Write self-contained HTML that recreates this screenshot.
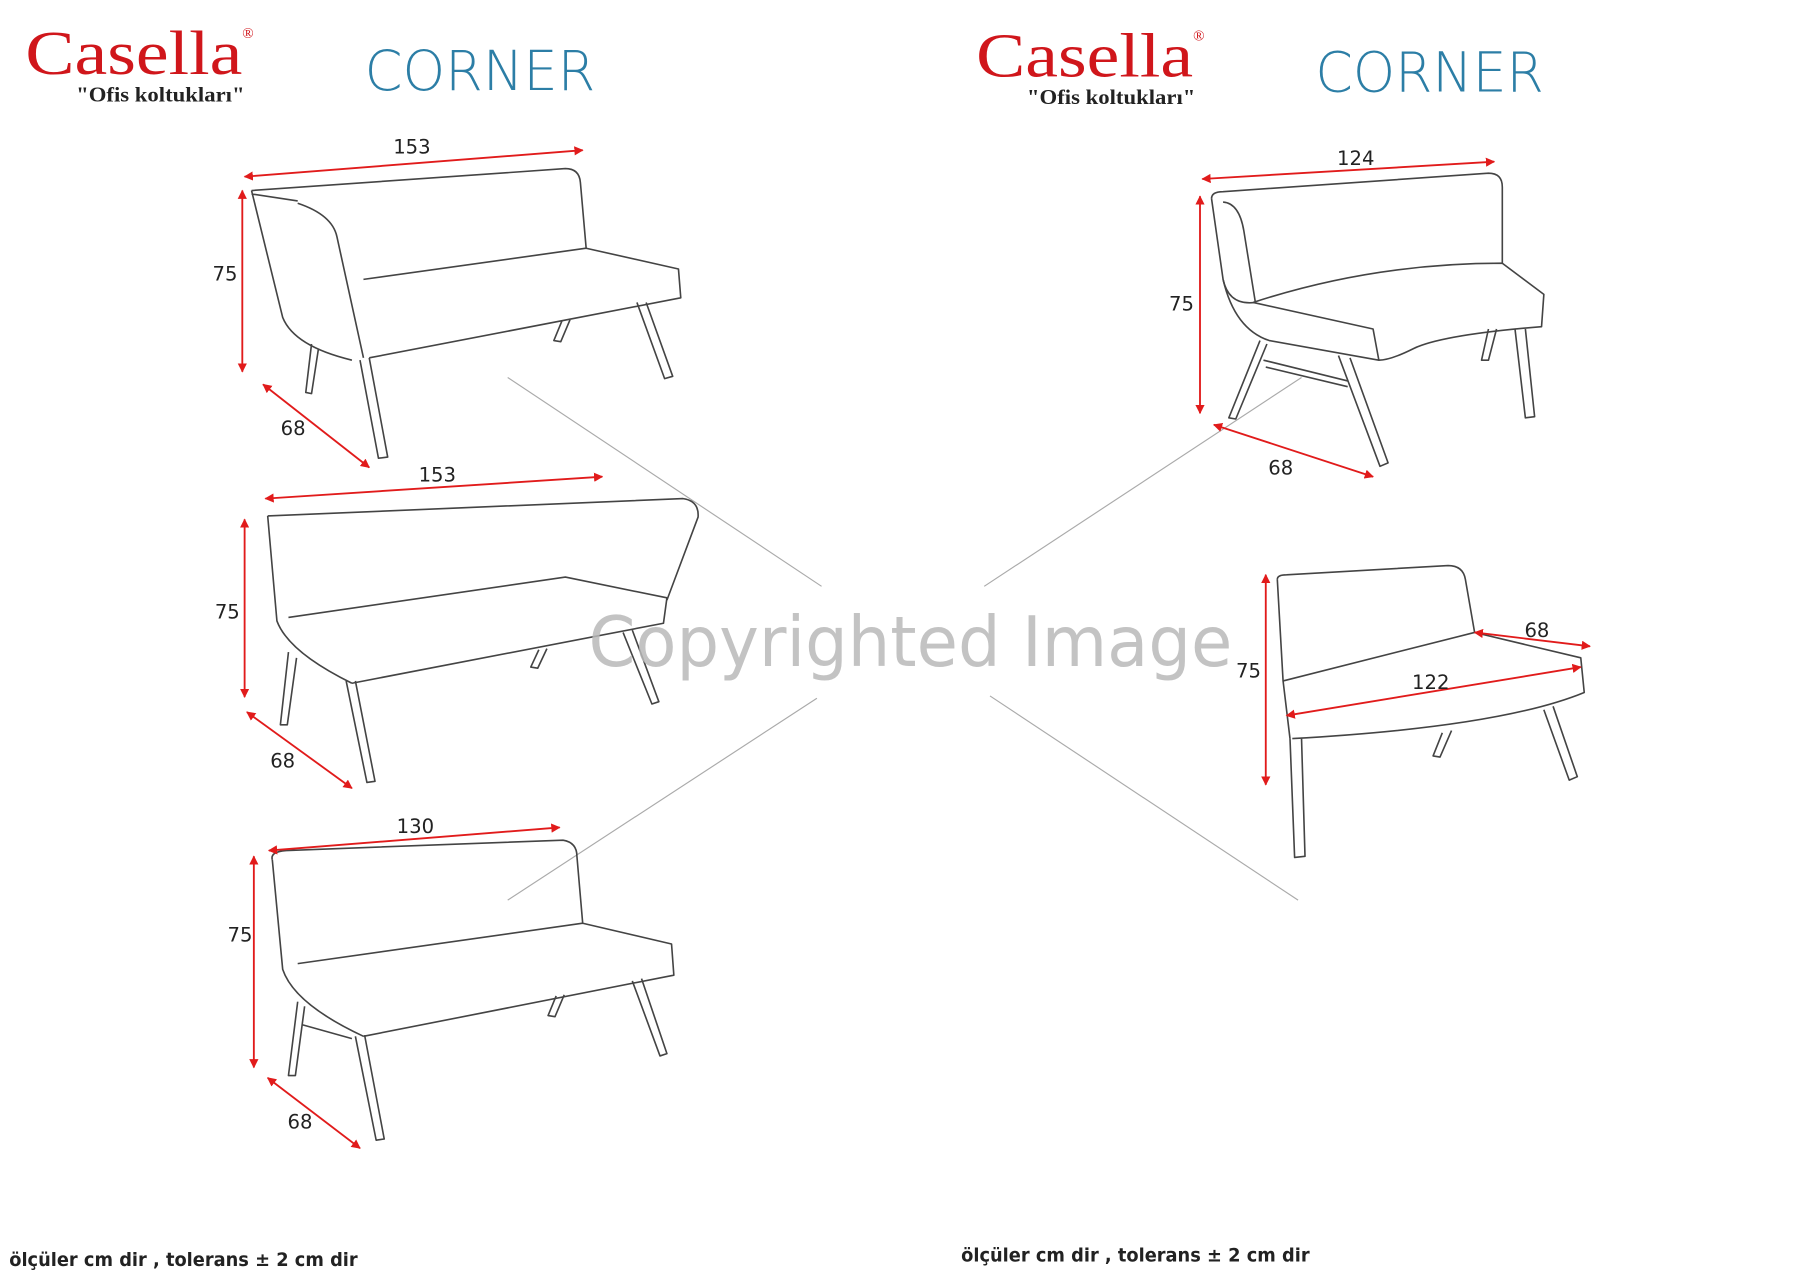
<!DOCTYPE html>
<html><head><meta charset="utf-8"><style>
html,body{margin:0;padding:0;background:#fff;}
svg{display:block;}
</style></head><body>
<svg width="1800" height="1273" viewBox="0 0 1560 1103" xmlns="http://www.w3.org/2000/svg">
<defs>
<marker id="a" viewBox="0 0 10 10" refX="9" refY="5" markerWidth="5" markerHeight="5" orient="auto-start-reverse"><path d="M0,0 L10,5 L0,10 z" fill="#e11b1b"/></marker>
</defs>
<rect width="1560" height="1103" fill="#fff"/>
<!-- headers -->
<g font-family="Liberation Serif, serif" fill="#d0161b">
<text x="22" y="64" font-size="54" textLength="188" lengthAdjust="spacingAndGlyphs">Casella</text>
<text x="210" y="33" font-size="13">®</text>
<text x="846" y="66" font-size="54" textLength="188" lengthAdjust="spacingAndGlyphs">Casella</text>
<text x="1034" y="35" font-size="13">®</text>
</g>
<g font-family="Liberation Serif, serif" font-weight="bold" fill="#222" font-size="18">
<text x="66" y="88" textLength="146" lengthAdjust="spacingAndGlyphs">"Ofis koltukları"</text>
<text x="890" y="90" textLength="146" lengthAdjust="spacingAndGlyphs">"Ofis koltukları"</text>
</g>
<g font-family="DejaVu Sans, sans-serif" fill="#2c7ea6" font-size="48" font-weight="200">
<text x="316" y="78" textLength="200" lengthAdjust="spacingAndGlyphs">CORNER</text>
<text x="1140" y="79" textLength="198" lengthAdjust="spacingAndGlyphs">CORNER</text>
</g>
<!-- watermark lines -->
<g stroke="#aaa" stroke-width="1">
<line x1="440" y1="327" x2="712" y2="508"/>
<line x1="853" y1="508" x2="1128" y2="327"/>
<line x1="440" y1="780" x2="708" y2="605"/>
<line x1="858" y1="603" x2="1125" y2="780"/>
</g>
<!-- sofas -->
<g fill="none" stroke="#444" stroke-width="1.4" stroke-linejoin="round">
<path d="M218,165 L490,146 Q502,146 503,158 L508,215"/>
<path d="M218,165 L245,275 Q255,300 305,312"/>
<path d="M218,168 L258,174 M258,176 Q288,186 292,205 L315,310"/>
<path d="M315,242 L508,215 L588,233 L590,258 L320,310"/>
<path d="M270,298 L265,340 L270,341 L276,302"/>
<path d="M312,312 L328,397 L336,396 L320,310"/>
<path d="M487,278 L480,295 L486,296 L494,277"/>
<path d="M552,262 L576,328 L583,326 L560,262"/>
<path d="M232,447 L592,432 Q606,434 605,448 L578,520"/>
<path d="M232,447 L240,538 Q250,565 305,592"/>
<path d="M250,535 L490,500 L578,518 L575,540 L305,592"/>
<path d="M250,565 L243,628 L249,628 L257,570"/>
<path d="M300,590 L318,678 L325,677 L308,590"/>
<path d="M467,563 L460,578 L466,579 L474,562"/>
<path d="M540,548 L565,610 L571,608 L548,546"/>
<path d="M236,745 Q234,738 248,737 L488,728 Q500,730 500,742 L505,800"/>
<path d="M236,745 L245,840 Q255,870 315,898"/>
<path d="M258,835 L505,800 L582,818 L584,845 L315,898"/>
<path d="M258,868 L250,932 L256,932 L264,872 M262,888 L305,900"/>
<path d="M308,898 L326,988 L333,987 L316,897"/>
<path d="M482,863 L475,880 L481,881 L489,862"/>
<path d="M548,850 L572,915 L578,913 L556,848"/>
<path d="M1050,172 Q1050,166 1060,166 L1290,150 Q1302,150 1302,162 L1302,228"/>
<path d="M1050,172 L1060,242 Q1065,265 1088,262"/>
<path d="M1060,175 Q1074,176 1078,200 L1088,262"/>
<path d="M1086,262 Q1190,228 1302,228 L1338,255 L1336,283 Q1250,290 1225,302 Q1205,312 1195,312"/>
<path d="M1060,242 Q1070,285 1100,295 L1195,312 L1190,285 L1086,262"/>
<path d="M1092,295 L1065,362 L1071,363 L1098,298"/>
<path d="M1160,308 L1196,404 L1203,401 L1170,310"/>
<path d="M1095,312 L1168,330 M1097,318 L1168,335"/>
<path d="M1290,285 L1284,312 L1290,312 L1297,285"/>
<path d="M1313,285 L1322,362 L1330,361 L1322,285"/>
<path d="M1107,502 Q1107,498 1115,498 L1255,490 Q1268,490 1270,502 L1278,548"/>
<path d="M1107,502 L1112,590 L1118,640"/>
<path d="M1112,590 L1278,548 L1370,570 L1373,600 Q1300,630 1120,640"/>
<path d="M1118,640 L1122,743 L1131,742 L1128,640"/>
<path d="M1250,635 L1242,655 L1248,656 L1258,633"/>
<path d="M1338,615 L1360,676 L1367,673 L1346,612"/>
</g>
<g stroke="#e11b1b" stroke-width="1.6" marker-start="url(#a)" marker-end="url(#a)">
<line x1="212" y1="153" x2="505" y2="130"/>
<line x1="210" y1="165" x2="210" y2="322"/>
<line x1="228" y1="333" x2="320" y2="405"/>
<line x1="230" y1="432" x2="522" y2="413"/>
<line x1="212" y1="450" x2="212" y2="604"/>
<line x1="214" y1="617" x2="305" y2="683"/>
<line x1="233" y1="737" x2="485" y2="717"/>
<line x1="220" y1="742" x2="220" y2="925"/>
<line x1="232" y1="934" x2="312" y2="995"/>
<line x1="1042" y1="155" x2="1295" y2="140"/>
<line x1="1040" y1="170" x2="1040" y2="358"/>
<line x1="1052" y1="368" x2="1190" y2="413"/>
<line x1="1097" y1="498" x2="1097" y2="680"/>
<line x1="1278" y1="548" x2="1378" y2="560"/>
<line x1="1115" y1="620" x2="1370" y2="578"/>
</g>
<g font-family="DejaVu Sans, sans-serif" font-size="17" fill="#222" text-anchor="middle">
<text x="357" y="133">153</text>
<text x="195" y="243">75</text>
<text x="254" y="377">68</text>
<text x="379" y="417">153</text>
<text x="197" y="536">75</text>
<text x="245" y="665">68</text>
<text x="360" y="722">130</text>
<text x="208" y="816">75</text>
<text x="260" y="978">68</text>
<text x="1175" y="143">124</text>
<text x="1024" y="269">75</text>
<text x="1110" y="411">68</text>
<text x="1082" y="587">75</text>
<text x="1332" y="552">68</text>
<text x="1240" y="597">122</text>
</g>
<text x="510" y="577" font-family="DejaVu Sans, sans-serif" font-size="60" fill="#b8b8b8" fill-opacity="0.85" textLength="558" lengthAdjust="spacingAndGlyphs">Copyrighted Image</text>
<g font-family="DejaVu Sans, sans-serif" font-size="16" fill="#222" font-weight="bold">
<text x="8" y="1097" textLength="302" lengthAdjust="spacingAndGlyphs">ölçüler cm dir , tolerans ± 2 cm dir</text>
<text x="833" y="1093" textLength="302" lengthAdjust="spacingAndGlyphs">ölçüler cm dir , tolerans ± 2 cm dir</text>
</g>
</svg>
</body></html>
